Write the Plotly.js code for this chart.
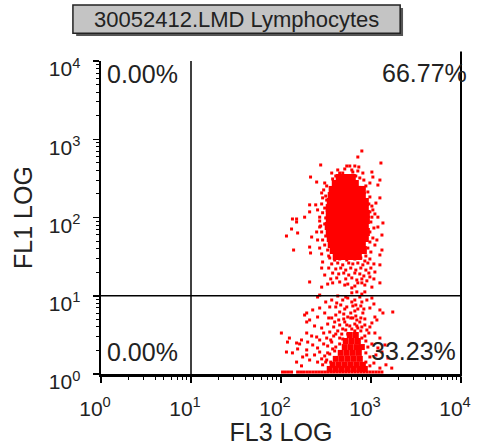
<!DOCTYPE html>
<html>
<head>
<meta charset="utf-8">
<script src="https://cdn.plot.ly/plotly-3.0.1.min.js"></script>
<style>html,body{margin:0;padding:0;background:#fff;}#chart{width:479px;height:446px;}</style>
</head>
<body>
<div id="chart"></div>
<script>
// ---- axis ticks ----
const tickVals = [1, 10, 100, 1000, 10000];
const tickText = ['10<sup>0</sup>', '10<sup>1</sup>', '10<sup>2</sup>', '10<sup>3</sup>', '10<sup>4</sup>'];

// ---- quadrant gates and region percentages ----
const gateFL3 = 10;
const gateFL1 = 10;
const quadLabels = ['0.00%', '66.77%', '0.00%', '33.23%'];
const plotTitle = '30052412.LMD Lymphocytes';

// ---- dense core of the FL1-bright population ----
const upperCoreFL3 = [449,524,612, 406,473,552,661, 375,438,511,596,696,791, 366,427,498,581,678,791,
  357,416,485,566,661,771,854, 348,406,473,552,644,751,854, 348,406,473,552,644,751,877,
  348,406,473,552,644,751,877, 339,395,461,538,628,732,854, 348,406,473,552,644,751,877,
  357,416,485,566,661,771,854, 366,427,498,581,678,791, 385,449,524,612,714,812, 416,498,596,714];
const upperCoreFL1 = [320,320,320, 268,268,268,268, 225,225,225,225,225,225, 188,188,188,188,188,188,
  158,158,158,158,158,158,158, 132,132,132,132,132,132,132, 111,111,111,111,111,111,111,
  92.9,92.9,92.9,92.9,92.9,92.9,92.9, 77.9,77.9,77.9,77.9,77.9,77.9,77.9, 65.3,65.3,65.3,65.3,65.3,65.3,65.3,
  54.7,54.7,54.7,54.7,54.7,54.7,54.7, 45.8,45.8,45.8,45.8,45.8,45.8, 38.4,38.4,38.4,38.4,38.4,38.4, 32.2,32.2,32.2,32.2];

// ---- scattered events of the FL1-bright population ----
const upperFL3 = [791,714,1289,276,538,581,661,732,213,249,306,366,449,485,628,812,1023,1049,1256,1193,972,
  283,290,243,208,255,183,269,314,1256,1134,1049,1023,1193,115,134,149,131,153,138,208,213,249,269,269,219,
  1357,1323,149,269,255,290,283,306,208,283,375,449,511,612,714,854,1023,1256,972,1105,1256,1256,1323,1193,1163,208,
  427,511,612,714,406,678,751,375,
  322,298,314,283,306,322,290,276,306,283,314,290,306,330,283,339,
  833,877,923,972,947,1023,972,1105,997,1077,972,1049,972,1105,923,997,877,
  348,395,449,538,661,771,854,972, 366,427,485,566,628,714,812,923,1077,
  339,406,461,524,596,678,771,877,997, 375,438,498,566,661,751,833,947,
  357,416,524,612,696,791,900,1077, 330,552,661,791];
const upperFL1 = [708,593,497,469,455,455,455,442,329,284,276,370,370,370,381,370,381,329,301,260,276,
  206,178,145,118,125,101,101,98.6,178,153,125,101,101,58.0,95.7,95.7,71.3,63.4,38.4,41.9,35.2,65.3,90.2,75.6,56.3,
  85.1,38.4,87.6,40.7,51.6,27.0,22.6,18.4,15.0,12.9,14.6,15.0,13.7,12.6,14.6,13.7,12.9,14.6,17.4,20.1,24.8,33.2,59.7,75.6,51.6,145,
  405,417,405,393,339,339,320,311,
  253,225,188,149,132,167,115,77.9,82.6,65.3,58.0,51.6,44.5,38.4,34.2,32.2,
  301,253,212,183,149,140,118,111,87.6,73.4,65.3,54.7,48.6,44.5,40.7,36.2,32.2,
  30.4,28.6,29.5,28.6,29.5,30.4,27.8,29.5, 25.5,26.2,24.8,26.2,25.5,26.2,24.8,26.2,25.5,
  22.6,22.0,22.6,21.3,22.6,21.3,22.6,21.3,22.6, 19.5,19.0,19.5,18.4,19.5,19.0,17.9,19.5,
  16.4,16.9,16.4,16.9,15.9,16.4,15.5,16.4, 14.1,14.1,13.3,14.6];

// ---- dense core of the FL1-dim population ----
const lowerCoreFL3 = [581,678, 524,612,714, 511,596,696,791, 461,538,628,732, 406,473,552,644,751,
  375,438,511,596,696,812, 348,406,473,552,644,751,854];
const lowerCoreFL1 = [3.15,3.15, 2.64,2.64,2.64, 2.21,2.21,2.21,2.21, 1.86,1.86,1.86,1.86, 1.56,1.56,1.56,1.56,1.56,
  1.31,1.31,1.31,1.31,1.31,1.31, 1.16,1.16,1.16,1.16,1.16,1.16,1.16];

// ---- scattered events of the FL1-dim population ----
const lowerFL3 = [269,255,427,612,696,791,854,751,552,1023,
  225,269,348,416,485,538,612,678,771,900,972,1256,1077,314,
  183,255,306,366,449,552,661,696,812,1105,1357,1745,498,596,406,208,193,
  1023,1163,972,511,581,661,751,854,449,395,330,283,236,193,193,
  249,169,298,348,385,427,473,524,771,854,947,1105,1256,322,269,
  225,193,255,298,330,366,406,449,877,923,1023,1193,1428,198,
  174,208,236,269,306,348,877,972,1134,1323,1543,395,
  255,290,322,877,972,1077,1256,1466,1700,
  101,124,118,149,161,134,115,153,149,169,193,219,628,714,552,661,791,485,357,
  461,511,628,714,791,833,498,596,678,771,854,538,612,696,791,900,485,438,385,339,406,366,524,661,
  449,406,357,330,375,314,283];
const lowerFL1 = [10.2,9.64,9.93,10.9,11.2,10.5,11.2,9.64,9.36,9.36,
  6.58,6.97,7.19,8.08,8.82,7.19,8.32,7.62,7.40,8.82,6.97,6.58,7.85,8.32,
  5.67,5.35,6.02,5.20,6.20,5.35,6.39,4.90,6.02,5.35,6.02,6.20,5.84,6.02,5.67,4.90,6.02,
  4.49,4.90,3.99,4.62,4.11,4.35,4.62,4.23,4.23,4.62,4.35,3.87,4.11,4.62,3.34,
  2.97,2.72,3.34,3.44,3.06,3.55,3.24,3.65,3.55,3.06,3.34,3.34,2.88,2.88,2.72,
  2.35,2.03,2.15,2.42,2.28,2.56,2.21,2.42,2.64,2.21,2.42,2.15,2.35,2.56,
  1.65,1.51,1.75,1.91,1.70,1.80,1.86,1.65,1.75,1.91,1.60,1.97,
  1.42,1.31,1.51,1.42,1.27,1.38,1.19,1.31,1.19,
  3.34,2.88,2.56,2.49,2.42,1.86,1.91,2.09,1.42,1.27,1.75,3.06,5.20,3.87,3.24,3.55,2.88,2.80,1.42,
  7.62,6.77,7.40,6.77,8.32,6.77,5.05,5.20,5.51,5.20,5.05,4.23,3.76,4.11,3.99,3.65,3.76,4.90,3.99,5.20,7.19,8.82,9.64,8.82,
  2.88,3.24,2.72,1.86,2.09,1.42,1.56];

// ---- events piled on the FL1 floor ----
const floorFL3 = [104,112,121,131,153,165,178,193,208,225,243,262,283,306,330,357,385,416,449,485,524,566,612,661,714,771,833,900,972,1049,1134,1224,1323];
const floorFL1 = [1.06,1.06,1.06,1.06,1.06,1.06,1.06,1.06,1.06,1.06,1.06,1.06,1.06,1.06,1.06,1.06,1.06,1.06,1.06,1.06,1.06,1.06,1.06,1.06,1.06,1.06,1.06,1.06,1.06,1.06,1.06,1.06,1.06];

const FONT = 'Liberation Sans, Arial, sans-serif';
const TXT = '#222';
const RED = '#ff0000';

function dots(x, y, size) {
  return {type: 'scatter', mode: 'markers', x: x, y: y, hoverinfo: 'skip', showlegend: false,
    marker: {symbol: 'square', size: size, color: RED, line: {width: 0}}};
}

const traces = [
  dots(upperCoreFL3, upperCoreFL1, 8),
  dots(lowerCoreFL3, lowerCoreFL1, 6),
  dots(upperFL3, upperFL1, 3),
  dots(lowerFL3, lowerFL1, 3),
  dots(floorFL3, floorFL1, 3),
  {type: 'scatter', mode: 'lines', x: [gateFL3, gateFL3], y: [tickVals[0], tickVals[4]], showlegend: false,
    hoverinfo: 'skip', line: {color: '#000', width: 1.5}},
  {type: 'scatter', mode: 'lines', x: [tickVals[0], tickVals[4]], y: [gateFL1, gateFL1], showlegend: false,
    hoverinfo: 'skip', line: {color: '#000', width: 1.5}}
];

function axis(titleText, extra, titleExtra) {
  return Object.assign({
    type: 'log', range: [0, 4], autorange: false,
    tickmode: 'array', tickvals: tickVals, ticktext: tickText,
    ticks: 'outside', ticklen: 6, tickwidth: 1.5, tickcolor: '#000',
    showline: true, linecolor: '#000', linewidth: 2.5,
    showgrid: false, zeroline: false,
    tickfont: {family: FONT, size: 21, color: TXT},
    minor: {ticks: 'outside', ticklen: 3, tickwidth: 1, tickcolor: '#000', dtick: 'D1', showgrid: false},
    title: Object.assign({text: titleText, font: {family: FONT, size: 25, color: TXT}}, titleExtra || {})
  }, extra);
}

const pctFont = {family: FONT, size: 25, color: TXT};
const layout = {
  width: 479, height: 446,
  margin: {l: 101, r: 18, t: 61, b: 72, pad: 0},
  paper_bgcolor: '#fff', plot_bgcolor: '#fff',
  showlegend: false, hovermode: false,
  xaxis: axis('FL3 LOG', {ticklabelstandoff: 8, ticklabelshift: -6}),
  yaxis: axis('FL1 LOG', {ticklabelstandoff: 8, ticklabelshift: 8}, {standoff: 9}),
  shapes: [
    {type: 'line', xref: 'paper', yref: 'paper', x0: 1, x1: 1, y0: -0.008, y1: 1.03, line: {color: '#000', width: 2}},
    {type: 'rect', xref: 'paper', yref: 'paper', x0: -0.069, x1: 0.839, y0: 1.080, y1: 1.169, fillcolor: '#555', line: {width: 0}},
    {type: 'rect', xref: 'paper', yref: 'paper', x0: -0.078, x1: 0.831, y0: 1.089, y1: 1.179, fillcolor: '#c4c4c4', line: {color: '#222', width: 1.5}}
  ],
  annotations: [
    {xref: 'paper', yref: 'paper', x: 0.376, y: 1.134, xanchor: 'center', yanchor: 'middle', text: plotTitle, showarrow: false,
      font: {family: FONT, size: 22, color: TXT}},
    {xref: 'paper', yref: 'paper', x: 0.011, y: 0.96, xanchor: 'left', yanchor: 'middle', text: quadLabels[0], showarrow: false, font: pctFont},
    {xref: 'paper', yref: 'paper', x: 1.022, y: 0.962, xanchor: 'right', yanchor: 'middle', text: quadLabels[1], showarrow: false, font: pctFont},
    {xref: 'paper', yref: 'paper', x: 0.011, y: 0.07, xanchor: 'left', yanchor: 'middle', text: quadLabels[2], showarrow: false, font: pctFont},
    {xref: 'paper', yref: 'paper', x: 0.992, y: 0.073, xanchor: 'right', yanchor: 'middle', text: quadLabels[3], showarrow: false, font: pctFont}
  ]
};

Plotly.newPlot('chart', traces, layout, {staticPlot: true, displayModeBar: false});
</script>
</body>
</html>
